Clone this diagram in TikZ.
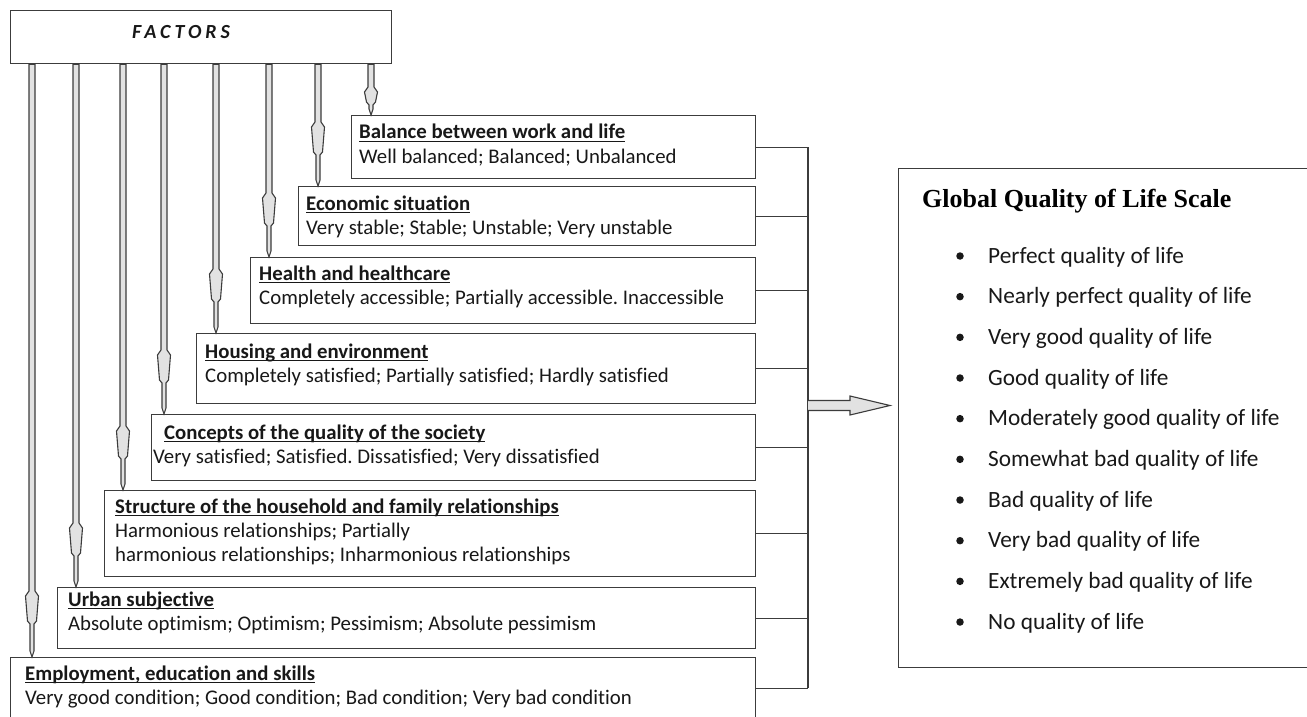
\documentclass[tikz,border=0pt]{standalone}
\usepackage{fontspec}
\setmainfont{Carlito}[Ligatures=NoCommon]
\newfontfamily\titlefont{Liberation Serif}
\newfontfamily\factfont[LetterSpace=20]{Carlito}
\usetikzlibrary{calc}
\frenchspacing
\definecolor{lnc}{HTML}{3C3C3C}
\definecolor{txc}{HTML}{181818}
\definecolor{afc}{HTML}{E2E2E2}
\newcommand\uhead[1]{\setbox0\hbox{\textbf{#1}}\rlap{\rule[-3.2pt]{\wd0}{1.3pt}}\box0}
\newcommand\factarrow[4]{%
  \draw[barrow] let \p1=(#1,0 |- factors.south), \p2=(#1,0 |- #2.north) in
  (\x1-3pt,\y1) -- (\x1-3pt,\y2+#3pt) -- (\x1-6.5pt,\y2+#3pt-5pt) -- (\x1-4.5pt,\y2+#4pt)
  -- (\x1-2pt,\y2+#4pt-3pt) -- (\x1-2pt,\y2+6pt) -- (\x2,\y2) -- (\x1+2pt,\y2+6pt)
  -- (\x1+2pt,\y2+#4pt-3pt) -- (\x1+4.5pt,\y2+#4pt) -- (\x1+6.5pt,\y2+#3pt-5pt)
  -- (\x1+3pt,\y2+#3pt) -- (\x1+3pt,\y1) -- cycle;}
\tikzset{
  box/.style={draw=lnc, line width=1.4pt, inner sep=0, anchor=north west, fill=white},
  txt/.style={anchor=base west, inner sep=0, text=txc, font=\fontsize{20.8}{24}\selectfont},
  btxt/.style={anchor=base west, inner sep=0, text=txc, font=\fontsize{23.3}{28}\selectfont},
  conn/.style={draw=lnc, line width=1.4pt},
  barrow/.style={draw=lnc, line width=1.1pt, fill=afc, line join=miter},
}
\begin{document}
\begin{tikzpicture}[x=1pt,y=-1pt]
\useasboundingbox[fill=white] (0,0) rectangle (1307,717);

% FACTORS box
\node[box, minimum width=381, minimum height=53] (factors) at (10,10) {};
\node[txt, font=\factfont\bfseries\itshape\fontsize{20}{24}\selectfont] (factorst) at (132,39) {FACTORS};

% factor boxes
\node[box, minimum width=404, minimum height=63] (b1) at (351,115) {};
\node[box, minimum width=457, minimum height=59] (b2) at (298,186) {};
\node[box, minimum width=505, minimum height=66] (b3) at (250,257) {};
\node[box, minimum width=559, minimum height=70] (b4) at (196,333) {};
\node[box, minimum width=604, minimum height=66] (b5) at (151,414) {};
\node[box, minimum width=651, minimum height=86] (b6) at (104,490) {};
\node[box, minimum width=698, minimum height=61] (b7) at (57,587) {};
\node[box, minimum width=745, minimum height=61] (b8) at (10,657) {};

% arrows from FACTORS
\factarrow{371}{b1}{28}{13}
\factarrow{318}{b2}{64}{34}
\factarrow{269}{b3}{64}{34}
\factarrow{216}{b4}{64}{34}
\factarrow{164}{b5}{64}{34}
\factarrow{123}{b6}{64}{34}
\factarrow{76}{b7}{64}{34}
\factarrow{32}{b8}{66}{36}

% texts
\node[txt] (t1a) at (359,139) {\uhead{Balance between work and life}};
\node[txt] (t1b) at (359,163) {Well balanced; Balanced; Unbalanced};
\node[txt] (t2a) at (306,210) {\uhead{Economic situation}};
\node[txt] (t2b) at (306,234) {Very stable; Stable; Unstable; Very unstable};
\node[txt] (t3a) at (259,280) {\uhead{Health and healthcare}};
\node[txt] (t3b) at (259,304) {Completely accessible; Partially accessible. Inaccessible};
\node[txt] (t4a) at (205,358) {\uhead{Housing and environment}};
\node[txt] (t4b) at (205,382) {Completely satisfied; Partially satisfied; Hardly satisfied};
\node[txt] (t5a) at (164,439) {\uhead{Concepts of the quality of the society}};
\node[txt] (t5b) at (153,463) {Very satisfied; Satisfied. Dissatisfied; Very dissatisfied};
\node[txt] (t6a) at (115,513) {\uhead{Structure of the household and family relationships}};
\node[txt] (t6b) at (115,537) {Harmonious relationships; Partially};
\node[txt] (t6c) at (115,561) {harmonious relationships; Inharmonious relationships};
\node[txt] (t7a) at (68,606) {\uhead{Urban subjective}};
\node[txt] (t7b) at (68,630) {Absolute optimism; Optimism; Pessimism; Absolute pessimism};
\node[txt] (t8a) at (25,680) {\uhead{Employment, education and skills}};
\node[txt] (t8b) at (25,704) {Very good condition; Good condition; Bad condition; Very bad condition};

% bracket
\coordinate (brk) at (808,0);
\foreach \b in {b1,b2,b3,b4,b5,b6,b7,b8}
  \draw[conn] (\b.east) -- (\b.east -| brk);
\draw[conn] (b1.east -| brk) -- (b8.east -| brk);

% big arrow
\coordinate (am) at (808,405.5);
\coordinate (atip) at (890,405.5);
\draw[barrow] let \p1=(am), \p2=(atip) in
  (\x1,\y1+5pt) -- (\x2-40pt,\y1+5pt) -- (\x2-40pt,\y1+9.5pt) -- (\x2,\y2)
  -- (\x2-40pt,\y1-9.5pt) -- (\x2-40pt,\y1-5pt) -- (\x1,\y1-5pt);

% Global quality of life scale
\node[box, minimum width=414, minimum height=499] (gq) at (898,168) {};
\node[anchor=base west, inner sep=0, text=black, font=\titlefont\bfseries\fontsize{26}{30}\selectfont] (gqt) at (922,207) {Global Quality of Life Scale};
\foreach \t [count=\i] in {Perfect quality of life, Nearly perfect quality of life, Very good quality of life, Good quality of life, Moderately good quality of life, Somewhat bad quality of life, Bad quality of life, Very bad quality of life, Extremely bad quality of life, No quality of life} {
  \node[btxt] (q\i) at (988,{263+40.67*(\i-1)}) {\t};
  \node[circle, fill=txc, inner sep=0, minimum size=7.5] (bul\i) at (960,{256+40.67*(\i-1)}) {};
}
\end{tikzpicture}
\end{document}
